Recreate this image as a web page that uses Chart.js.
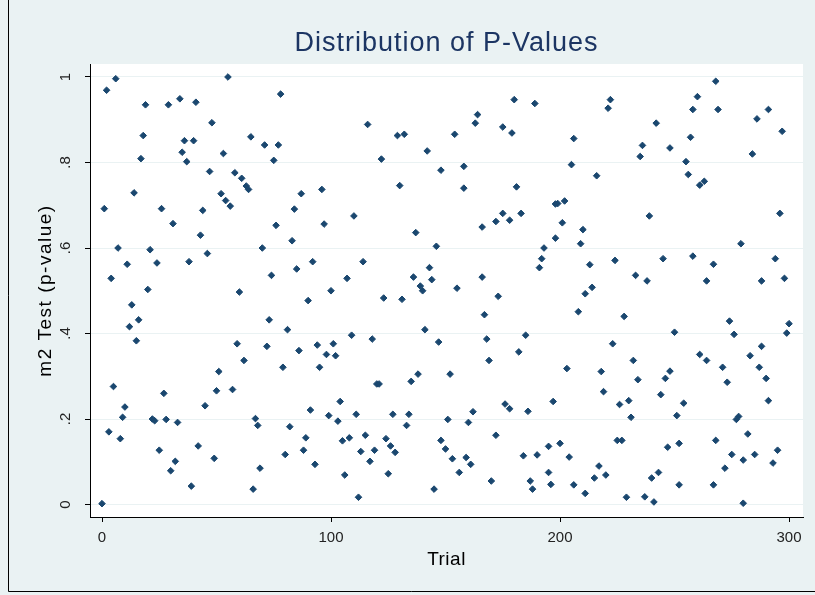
<!DOCTYPE html>
<html>
<head>
<meta charset="utf-8">
<script src="https://cdn.jsdelivr.net/npm/chart.js@4/dist/chart.umd.min.js"></script>
<style>
  html, body { margin: 0; padding: 0; background: #fff; }
  canvas { display: block; }
</style>
</head>
<body>
<canvas id="pChart" width="815" height="595"></canvas>
<script>
// trial number and p-value of each point
const trial = [
  6, 2, 19, 29, 34, 41, 18, 36, 40, 35, 37, 17, 14, 1, 26, 44, 31, 43, 7, 21, 46, 11, 24, 38, 4, 20,
  13, 16, 12, 15, 5, 27, 45, 10, 9, 22, 23, 28, 33, 3, 8, 42, 25, 32, 30, 39, 0,
  55, 78, 48, 65, 71, 77, 53, 75, 47, 58, 61, 63, 64, 52, 54, 56, 87, 96, 84, 76, 97, 83, 70, 74, 85, 92,
  60, 90, 73, 81, 59, 72, 86, 94, 98, 95, 79, 62, 51, 50, 57, 91, 67, 68, 82, 89, 88, 80, 93, 49, 69, 66,
  116, 129, 132, 142, 122, 148, 130, 110, 137, 146, 114, 107, 136, 143, 144, 139, 100,
  123, 131, 140, 109, 118, 141, 147, 101, 102, 120, 121, 135, 138, 104, 99, 111, 127, 134, 103, 133,
  115, 105, 108, 124, 126, 128, 113, 119, 117, 106, 125, 112, 145, 148,
  180, 189, 164, 163, 175, 179, 154, 158, 158, 181, 198, 175, 183, 172, 178, 166, 193, 198, 192, 191, 166, 155,
  173, 167, 168, 185, 169, 182, 152, 197, 176, 178, 162, 186, 151, 160, 172, 150, 153, 159, 161, 195,
  190, 184, 195, 156, 170, 187, 196, 188,
  222, 221, 242, 206, 236, 235, 248, 205, 216, 199, 202, 239, 201, 210, 209, 245, 224, 213, 233, 238, 214,
  211, 208, 228, 223, 232, 203, 218, 234, 248, 246, 219, 244, 226, 230, 231, 200, 225, 227, 247, 204,
  217, 215, 220, 206, 211, 229, 240, 243, 237, 241,
  268, 260, 258, 269, 291, 286, 297, 257, 284, 255, 256, 261, 263, 296, 279, 258, 294, 267, 264, 288, 298,
  274, 276, 300, 299, 250, 288, 261, 264, 283, 271, 287, 273, 290, 291, 254, 251, 278, 277, 282, 268,
  252, 275, 280, 285, 295, 293, 272, 252, 267, 280
];
const pValue = [
  .996, .969, .935, .935, .949, .941, .863, .851, .851, .824, .802, .809, .729, .692, .692, .688, .657, .630, .600, .596, .587, .562, .565, .568, .529, .503,
  .467, .432, .416, .383, .276, .260, .231, .228, .204, .200, .196, .199, .192, .170, .154, .137, .127, .101, .079, .043, .002,
  1.0, .960, .893, .860, .841, .841, .821, .805, .779, .776, .763, .745, .737, .727, .711, .698, .727, .737, .691, .653, .656, .617, .600, .536, .551, .568,
  .497, .477, .432, .409, .376, .370, .360, .373, .351, .321, .321, .337, .311, .266, .269, .221, .201, .185, .182, .156, .127, .117, .094, .108, .085, .036,
  .889, .863, .866, .827, .808, .782, .746, .675, .636, .604, .568, .529, .532, .554, .526, .511, .500,
  .483, .480, .500, .396, .387, .409, .380, .376, .348, .282, .282, .288, .305, .241, .208, .211, .211, .211, .195, .185,
  .162, .149, .156, .154, .137, .122, .124, .127, .101, .069, .072, .017, .036, .150,
  .947, .938, .912, .892, .883, .869, .866, .791, .740, .743, .703, .681, .681, .662, .665, .649, .600, .623, .575, .554, .532, .506,
  .487, .444, .387, .396, .337, .357, .305, .241, .235, .224, .217, .218, .199, .192, .162, .130, .107, .110, .094, .136,
  .116, .114, .075, .075, .055, .055, .047, .036,
  .947, .927, .892, .856, .840, .814, .834, .795, .769, .704, .710, .675, .659, .643, .610, .575, .571, .561, .536, .523, .508,
  .493, .451, .440, .376, .337, .318, .311, .292, .312, .295, .264, .257, .234, .243, .204, .143, .150, .150, .134, .111,
  .090, .062, .069, .046, .026, .017, .062, .075, .018, .006,
  .990, .954, .924, .924, .924, .902, .873, .859, .820, .802, .772, .747, .756, .681, .610, .581, .575, .562, .523, .523, .529,
  .429, .398, .423, .401, .403, .370, .351, .337, .348, .321, .321, .286, .295, .243, .237, .208, .206, .199, .165, .150,
  .143, .117, .104, .117, .127, .097, .085, .046, .046, .003
];
const xTicks = [0, 100, 200, 300];
const yTicks = [0, .2, .4, .6, .8, 1];
const chartTitle = 'Distribution of P-Values';

const points = trial.map((t, i) => ({ x: t, y: pValue[i] }));

const NAVY = '#1a476f';
const STATA_BG = '#eaf2f3';
const FONT = 'Liberation Sans, Arial, sans-serif';

// light blue graph region, white plot region, title centred over the plot region
const backdrop = {
  id: 'backdrop',
  beforeDraw(chart) {
    const { ctx, chartArea: a, width, height } = chart;
    ctx.save();
    ctx.fillStyle = STATA_BG;
    ctx.fillRect(0, 0, width, height);
    ctx.fillStyle = '#fff';
    ctx.fillRect(a.left, a.top, a.right - a.left, a.bottom - a.top);
    ctx.strokeStyle = '#000';
    ctx.lineWidth = 1;
    ctx.beginPath();
    ctx.moveTo(8.5, 0);
    ctx.lineTo(8.5, height - 3.5);
    ctx.lineTo(width, height - 3.5);
    ctx.stroke();

    ctx.fillStyle = '#1c3563';
    ctx.font = '27px ' + FONT;
    ctx.letterSpacing = '1px';
    ctx.textAlign = 'center';
    ctx.textBaseline = 'middle';
    ctx.fillText(chartTitle, (a.left + a.right) / 2, 44);
    ctx.restore();
  }
};

// Stata's axis titles are set wider than Liberation Sans, so add a little tracking
function spacedTitle(spacing) {
  return s => {
    if (s._spaced) return;
    s._spaced = true;
    const base = s.drawTitle;
    s.drawTitle = function () {
      this.ctx.save();
      this.ctx.letterSpacing = spacing;
      base.call(this);
      this.ctx.restore();
    };
  };
}

new Chart(document.getElementById('pChart'), {
  type: 'scatter',
  data: {
    datasets: [{
      label: 'p-value',
      data: points,
      pointStyle: 'rectRot',
      pointRadius: 3.3,
      pointBorderWidth: 1,
      backgroundColor: NAVY,
      borderColor: NAVY
    }]
  },
  options: {
    responsive: false,
    animation: false,
    devicePixelRatio: 1,
    layout: { padding: { left: 0, right: 12, top: 64, bottom: 0 } },
    plugins: {
      legend: { display: false },
      tooltip: { enabled: false },
      title: { display: false }
    },
    scales: {
      x: {
        type: 'linear',
        position: 'bottom',
        min: -5.24,
        max: 306.1,
        afterBuildTicks: s => { s.ticks = xTicks.map(v => ({ value: v })); },
        afterFit: s => { s.height = 78; spacedTitle('0.5px')(s); },
        grid: { drawOnChartArea: false, tickLength: 5, tickColor: '#000' },
        border: { display: true, color: '#000', width: 1 },
        ticks: {
          color: '#222',
          padding: 7,
          maxRotation: 0,
          font: { family: FONT, size: 15 }
        },
        title: {
          display: true,
          text: 'Trial',
          color: '#000',
          font: { family: FONT, size: 19 },
          padding: { top: 0, bottom: 24 }
        }
      },
      y: {
        type: 'linear',
        min: -0.0292,
        max: 1.0304,
        afterBuildTicks: s => { s.ticks = yTicks.map(v => ({ value: v })); },
        afterFit: s => { s.width = 90; spacedTitle('1.5px')(s); },
        grid: { color: STATA_BG, lineWidth: 1, tickLength: 5, tickColor: '#000' },
        border: { display: true, color: '#000', width: 1 },
        ticks: {
          color: '#222',
          padding: 13,
          minRotation: 90,
          maxRotation: 90,
          crossAlign: 'center',
          font: { family: FONT, size: 15 },
          callback: v => v === 0 ? '0' : v === 1 ? '1' : String(Math.round(v * 10) / 10).replace('0.', '.')
        },
        title: {
          display: true,
          text: 'm2 Test (p-value)',
          color: '#000',
          font: { family: FONT, size: 19 },
          padding: { top: 34, bottom: 0 }
        }
      }
    }
  },
  plugins: [backdrop]
});
</script>
</body>
</html>
